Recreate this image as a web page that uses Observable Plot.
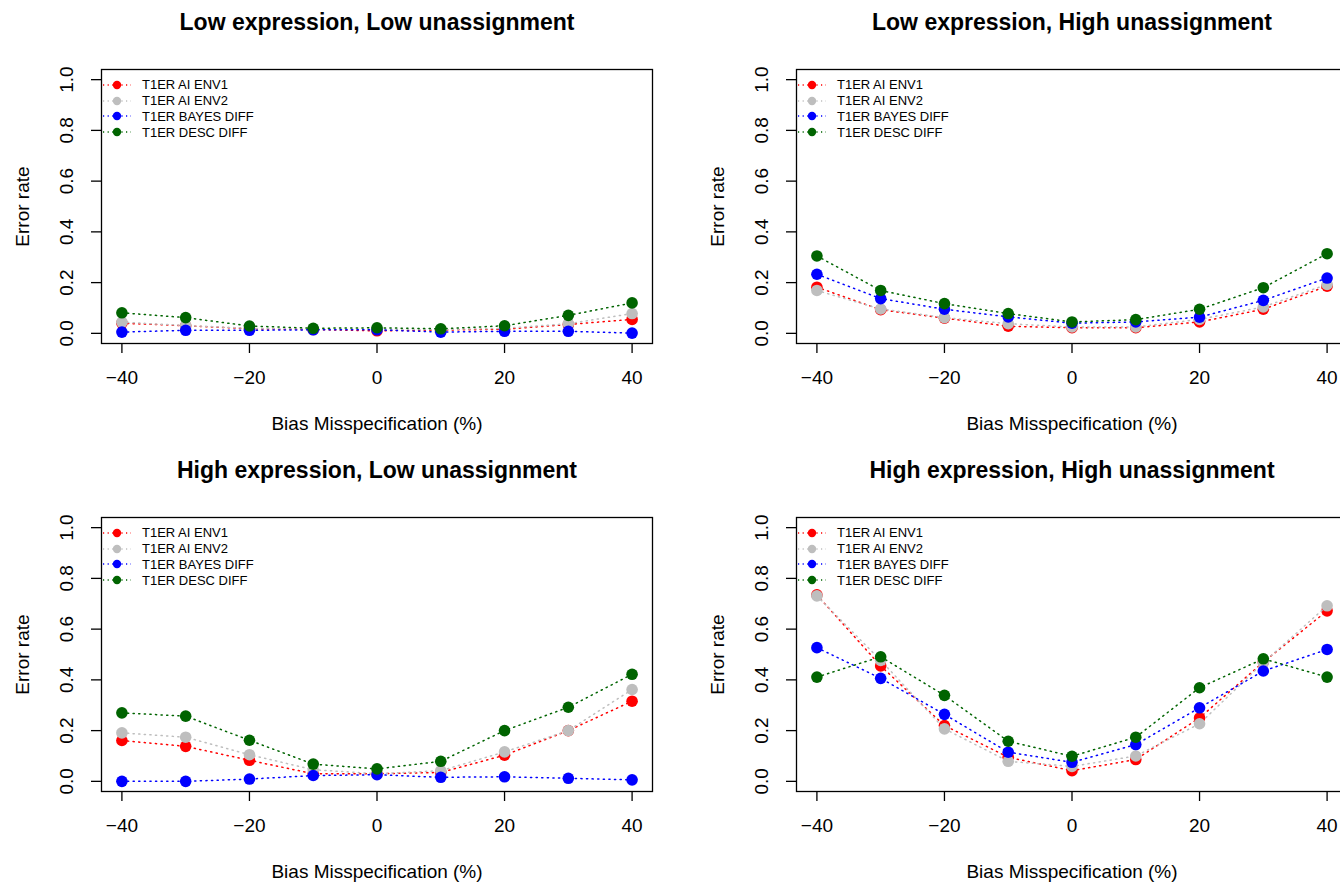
<!DOCTYPE html>
<html><head><meta charset="utf-8">
<script src="https://cdn.jsdelivr.net/npm/d3@7"></script>
<script src="https://cdn.jsdelivr.net/npm/@observablehq/plot@0.6"></script>
<style>
body{margin:0;background:#fff;overflow:hidden;font-family:"Liberation Sans",Arial,Helvetica,sans-serif;}
#wrap{position:relative;width:1340px;height:882px;overflow:hidden;background:#fff;}
.panel{position:absolute;width:695px;height:448px;}
.legend{position:absolute;left:101px;top:77px;font-size:13px;color:#000;}
.legend .row{display:flex;align-items:center;height:15.8px;white-space:nowrap;}
.legend svg{display:block;margin-right:8px;}
</style></head><body><div id="wrap"></div>
<script>
const bias = [-40, -30, -20, -10, 0, 10, 20, 30, 40];
const seriesNames = ["T1ER AI ENV1", "T1ER AI ENV2", "T1ER BAYES DIFF", "T1ER DESC DIFF"];
const seriesColors = ["#ff0000", "#bebebe", "#0000ff", "#006400"];
const panelTitles = [
  "Low expression, Low unassignment",
  "Low expression, High unassignment",
  "High expression, Low unassignment",
  "High expression, High unassignment"
];
const xTicks = [-40, -20, 0, 20, 40];
const xTickLabels = ["\u221240", "\u221220", "0", "20", "40"];
const yTicks = [0, 0.2, 0.4, 0.6, 0.8, 1.0];
const yTickLabels = ["0.0", "0.2", "0.4", "0.6", "0.8", "1.0"];
const xTitle = "Bias Misspecification (%)";
const yTitle = "Error rate";

// Low expression, Low unassignment
const lowLowEnv1  = [0.040, 0.030, 0.018, 0.015, 0.010, 0.013, 0.016, 0.035, 0.055];
const lowLowEnv2  = [0.044, 0.031, 0.020, 0.016, 0.016, 0.015, 0.020, 0.038, 0.078];
const lowLowBayes = [0.005, 0.012, 0.012, 0.014, 0.014, 0.005, 0.008, 0.008, 0.001];
const lowLowDesc  = [0.081, 0.062, 0.029, 0.020, 0.022, 0.018, 0.030, 0.071, 0.120];
// Low expression, High unassignment
const lowHighEnv1  = [0.182, 0.093, 0.060, 0.028, 0.022, 0.022, 0.045, 0.095, 0.186];
const lowHighEnv2  = [0.169, 0.096, 0.062, 0.038, 0.025, 0.025, 0.055, 0.104, 0.193];
const lowHighBayes = [0.233, 0.137, 0.095, 0.065, 0.040, 0.045, 0.064, 0.130, 0.218];
const lowHighDesc  = [0.305, 0.169, 0.117, 0.078, 0.045, 0.054, 0.095, 0.180, 0.314];
// High expression, Low unassignment
const highLowEnv1  = [0.161, 0.138, 0.083, 0.030, 0.030, 0.035, 0.103, 0.200, 0.316];
const highLowEnv2  = [0.191, 0.174, 0.105, 0.046, 0.030, 0.042, 0.116, 0.200, 0.362];
const highLowBayes = [0.000, 0.000, 0.009, 0.023, 0.026, 0.016, 0.018, 0.012, 0.006];
const highLowDesc  = [0.270, 0.257, 0.162, 0.068, 0.049, 0.079, 0.200, 0.292, 0.422];
// High expression, High unassignment
const highHighEnv1  = [0.735, 0.455, 0.220, 0.095, 0.042, 0.086, 0.250, 0.470, 0.672];
const highHighEnv2  = [0.731, 0.477, 0.207, 0.079, 0.059, 0.100, 0.227, 0.468, 0.692];
const highHighBayes = [0.527, 0.406, 0.264, 0.115, 0.075, 0.145, 0.290, 0.435, 0.520];
const highHighDesc  = [0.411, 0.491, 0.339, 0.158, 0.099, 0.174, 0.369, 0.483, 0.411];

const panels = [
  [lowLowEnv1, lowLowEnv2, lowLowBayes, lowLowDesc],
  [lowHighEnv1, lowHighEnv2, lowHighBayes, lowHighDesc],
  [highLowEnv1, highLowEnv2, highLowBayes, highLowDesc],
  [highHighEnv1, highHighEnv2, highHighBayes, highHighDesc]
];

const FONT = '"Liberation Sans", Arial, Helvetica, sans-serif';
const dash = "1.2,4.4";

function makePanel(title, series) {
  const marks = [];
  series.forEach((vals, si) => {
    const d = vals.map((v, i) => ({bias: bias[i], value: v, series: seriesNames[si]}));
    marks.push(Plot.line(d, {x: "bias", y: "value", stroke: seriesColors[si], strokeWidth: 1.5, strokeDasharray: dash, strokeLinecap: "round"}));
    marks.push(Plot.dot(d, {x: "bias", y: "value", r: 5.8, fill: seriesColors[si], stroke: "none"}));
  });
  marks.push(Plot.frame({stroke: "#000", strokeWidth: 1.3}));
  marks.push(Plot.axisX({ticks: xTicks, tickSize: 10, tickFormat: () => "", label: null, stroke: "#000", strokeWidth: 1.3}));
  marks.push(Plot.axisY({ticks: yTicks, tickSize: 10, tickFormat: () => "", label: null, stroke: "#000", strokeWidth: 1.3}));
  marks.push(Plot.text(xTicks, {x: d => d, text: (d, i) => xTickLabels[i], frameAnchor: "bottom", lineAnchor: "middle", textAnchor: "middle", dy: 34, fontSize: 19, fill: "#000"}));
  marks.push(Plot.text(yTicks, {y: d => d, text: (d, i) => yTickLabels[i], frameAnchor: "left", lineAnchor: "middle", textAnchor: "middle", dx: -35, rotate: -90, fontSize: 19, fill: "#000"}));
  marks.push(Plot.text([xTitle], {text: d => d, frameAnchor: "bottom", lineAnchor: "middle", textAnchor: "middle", dy: 80, fontSize: 19, fill: "#000"}));
  marks.push(Plot.text([yTitle], {text: d => d, frameAnchor: "left", lineAnchor: "middle", textAnchor: "middle", dx: -79, rotate: -90, fontSize: 19, fill: "#000"}));
  marks.push(Plot.text([title], {text: d => d, frameAnchor: "top", lineAnchor: "middle", textAnchor: "middle", dy: -47, fontSize: 23, fontWeight: "bold", fill: "#000"}));
  return Plot.plot({
    width: 695, height: 448,
    marginLeft: 101, marginRight: 43, marginTop: 69, marginBottom: 105,
    x: {domain: [-43.2, 43.2], axis: null, label: null},
    y: {domain: [-0.04, 1.04], axis: null, label: null},
    style: {fontFamily: FONT, background: "white", overflow: "visible"},
    marks
  });
}

function makeLegend() {
  const lg = document.createElement("div");
  lg.className = "legend";
  seriesNames.forEach((name, si) => {
    const row = document.createElement("div");
    row.className = "row";
    const ns = "http://www.w3.org/2000/svg";
    const s = document.createElementNS(ns, "svg");
    s.setAttribute("width", 33); s.setAttribute("height", 14);
    const ln = document.createElementNS(ns, "line");
    ln.setAttribute("x1", 2); ln.setAttribute("x2", 30); ln.setAttribute("y1", 7); ln.setAttribute("y2", 7);
    ln.setAttribute("stroke", seriesColors[si]); ln.setAttribute("stroke-width", 1.3);
    ln.setAttribute("stroke-dasharray", "1.2,3.4");
    const c = document.createElementNS(ns, "circle");
    c.setAttribute("cx", 16); c.setAttribute("cy", 7); c.setAttribute("r", 4.2);
    c.setAttribute("fill", seriesColors[si]);
    s.appendChild(ln); s.appendChild(c);
    row.appendChild(s);
    const t = document.createElement("span");
    t.textContent = name;
    row.appendChild(t);
    lg.appendChild(row);
  });
  return lg;
}

const wrap = document.getElementById("wrap");
const offsets = [[0, 0], [695, 0], [0, 448], [695, 448]];
panels.forEach((series, p) => {
  const div = document.createElement("div");
  div.className = "panel";
  div.style.left = offsets[p][0] + "px";
  div.style.top = offsets[p][1] + "px";
  div.appendChild(makePanel(panelTitles[p], series));
  div.appendChild(makeLegend());
  wrap.appendChild(div);
});
</script>
</body></html>
